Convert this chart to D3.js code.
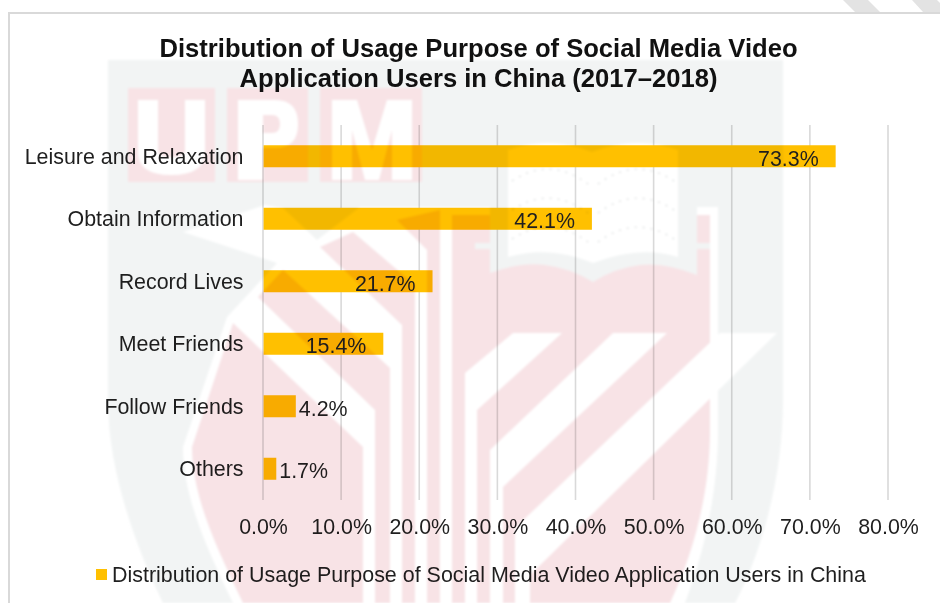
<!DOCTYPE html>
<html>
<head>
<meta charset="utf-8">
<script src="https://cdn.jsdelivr.net/npm/d3@7"></script>
<style>
  html, body { margin: 0; padding: 0; background: #fff; }
  svg { display: block; font-family: "Liberation Sans", Arial, sans-serif; }
  .axis path, .axis line { display: none; }
  .axis text { font-size: 21.4px; fill: #1f1f1f; font-family: "Liberation Sans", Arial, sans-serif; }
</style>
</head>
<body>
<script>
// Survey figures, in percent
const categories = ["Leisure and Relaxation", "Obtain Information", "Record Lives", "Meet Friends", "Follow Friends", "Others"];
const shares = [73.3, 42.1, 21.7, 15.4, 4.2, 1.7];
const shareTicks = [0, 10, 20, 30, 40, 50, 60, 70, 80];
const titleLines = ["Distribution of Usage Purpose of Social Media Video", "Application Users in China (2017\u20132018)"];
const seriesName = "Distribution of Usage Purpose of Social Media Video Application Users in China";

const width = 940, height = 603;
const barColor = "#ffc000", gridColor = "#d9d9d9";

const svg = d3.select("body").append("svg").attr("width", width).attr("height", height);

const x = d3.scaleLinear().domain([0, 80]).range([263, 888]);
const y = d3.scaleBand().domain(categories).range([125, 500]).paddingInner(0.648).paddingOuter(0.324);

// Page furniture: corner hatching and the chart frame
const corner = svg.append("g").attr("fill", "#e3e3e3");
corner.append("path").attr("d", "M843,0H868L880,12H855Z");
corner.append("path").attr("d", "M912,0H937L940,3V12H923Z");
svg.append("path").attr("d", "M940,13H9V603").attr("fill", "none").attr("stroke", gridColor).attr("stroke-width", 2);

// Gridlines sit behind the bars
svg.append("g").selectAll("line").data(shareTicks).join("line")
  .attr("x1", d => x(d)).attr("x2", d => x(d))
  .attr("y1", 125).attr("y2", 500)
  .attr("stroke", gridColor).attr("stroke-width", 1.6);

svg.append("g").selectAll("rect").data(categories).join("rect")
  .attr("x", x(0) + 0.6)
  .attr("y", d => y(d))
  .attr("width", (d, i) => x(shares[i]) - x(0) - 0.6)
  .attr("height", y.bandwidth())
  .attr("fill", barColor);

const axisLeft = d3.axisLeft(y).tickSize(0).tickPadding(19.5);
svg.append("g").attr("class", "axis").attr("transform", `translate(${x(0)},0.7)`).call(axisLeft)
  .selectAll("text").attr("dy", "0.32em");

const axisBottom = d3.axisBottom(x).tickValues(shareTicks).tickSize(0).tickPadding(18.5).tickFormat(d => d.toFixed(1) + "%");
svg.append("g").attr("class", "axis").attr("transform", "translate(0,500)").call(axisBottom);

// Value labels: inside the bar end for long bars, just past it for short ones
svg.append("g").selectAll("text").data(categories).join("text")
  .attr("x", (d, i) => shares[i] > 10 ? x(shares[i]) - 17 : x(shares[i]) + 3)
  .attr("y", d => y(d) + y.bandwidth() / 2 + 2)
  .attr("dy", "0.35em")
  .attr("text-anchor", (d, i) => shares[i] > 10 ? "end" : "start")
  .attr("font-size", 21.4)
  .attr("fill", "#1f1f1f")
  .text((d, i) => shares[i].toFixed(1) + "%");

// Two-line title
svg.append("g").selectAll("text").data(titleLines).join("text")
  .attr("x", 478.5)
  .attr("y", (d, i) => 57 + i * 30)
  .attr("text-anchor", "middle")
  .attr("font-size", 25.6)
  .attr("font-weight", "bold")
  .attr("fill", "#111")
  .text(d => d);

// Legend
svg.append("rect").attr("x", 96).attr("y", 569).attr("width", 11).attr("height", 11).attr("fill", barColor);
svg.append("text").attr("x", 112).attr("y", 574).attr("dy", "0.35em")
  .attr("font-size", 21.45).attr("fill", "#1f1f1f").text(seriesName);

// Faded university crest printed across the page, multiplied over everything below it
const crestGray = "#f2f4f4", crestPink = "#f8e3e6";
svg.append("defs").append("filter").attr("id", "crest-soft")
  .attr("x", "-2%").attr("y", "-2%").attr("width", "104%").attr("height", "104%")
  .append("feGaussianBlur").attr("stdDeviation", 0.9);
const crest = svg.append("g")
  .style("mix-blend-mode", "multiply")
  .attr("filter", "url(#crest-soft)")
  .attr("pointer-events", "none");

const crestShapes = [
  // outer shield
  [crestGray, "M108,60H783V400C783,470 765,545 735,603H163C135,545 108,470 108,400Z"],
  // inner white field with its diagonal cut-outs
  ["#fff", "M360,207H718V430C718,490 705,550 685,603H233C205,545 183,495 183,447L227,317L277,263L183,232L265,205L283,208L317,240Z"],
  // lettering panels
  [crestPink, "M128,88H215V182H128Z"],
  [crestPink, "M227,88H308V182H227Z"],
  [crestPink, "M320,88H422V182H320Z"],
  // left chevrons, each running into a vertical bar
  [crestPink, "M233,323L363,447V603H243C215,545 192,495 192,447Z"],
  [crestPink, "M283,270L390,368V603H375V410L258,297Z"],
  [crestPink, "M353,232L415,285V603H402V325L320,247Z"],
  [crestPink, "M397,220L440,210V603H427V250Z"],
  // right-hand block
  [crestPink, "M452,215H710V430C710,490 695,550 670,603H452Z"],
  // white vertical bars between the left chevrons
  ["#fff", "M390,368H402V603H390Z"],
  ["#fff", "M415,285H427V603H415Z"],
  // right-hand white chevrons
  ["#fff", "M465,603V373L513,333H562L477,410V603Z"],
  ["#fff", "M490,603V450L613,333H667L503,487V603Z"],
  ["#fff", "M515,603V528L720,333H777L530,575V603Z"],
  // letters
  ["#fff", "M138,100H158V150Q158,157 171,157Q185,157 185,150V100H205V152Q205,175 171,175Q138,175 138,152Z"],
  ["#fff", "M238,100H275Q298,100 298,124Q298,148 275,148H263V180H238ZM263,115V133H272Q280,133 280,124Q280,115 272,115Z"],
  ["#fff", "M332,100H357L372,150L387,100H412V180H392V130L379,180H365L352,130V180H332Z"],
  // book: handles, outline, pages
  [crestGray, "M475,187H710V193H475ZM475,243H710V249H475Z"],
  [crestGray, "M490,150H697V275Q665,262 640,265Q615,268 593,282Q570,268 545,265Q520,262 490,273Z"],
  ["#fff", "M508,150Q550,135 592,152Q636,135 678,150V257Q640,245 593,263Q550,245 508,257Z"]
];
crest.selectAll("path").data(crestShapes).join("path")
  .attr("fill", d => d[0])
  .attr("d", d => d[1]);

// Dotted text lines on the open book
const bookLines = [178, 207, 236];
bookLines.forEach(top => {
  crest.append("path")
    .attr("d", `M512,${top + 3}Q550,${top - 22} 588,${top + 6}M598,${top + 6}Q636,${top - 22} 674,${top + 3}`)
    .attr("fill", "none")
    .attr("stroke", "#e4e6e6")
    .attr("stroke-width", 1.6)
    .attr("stroke-dasharray", "2 6");
});
</script>
</body>
</html>
